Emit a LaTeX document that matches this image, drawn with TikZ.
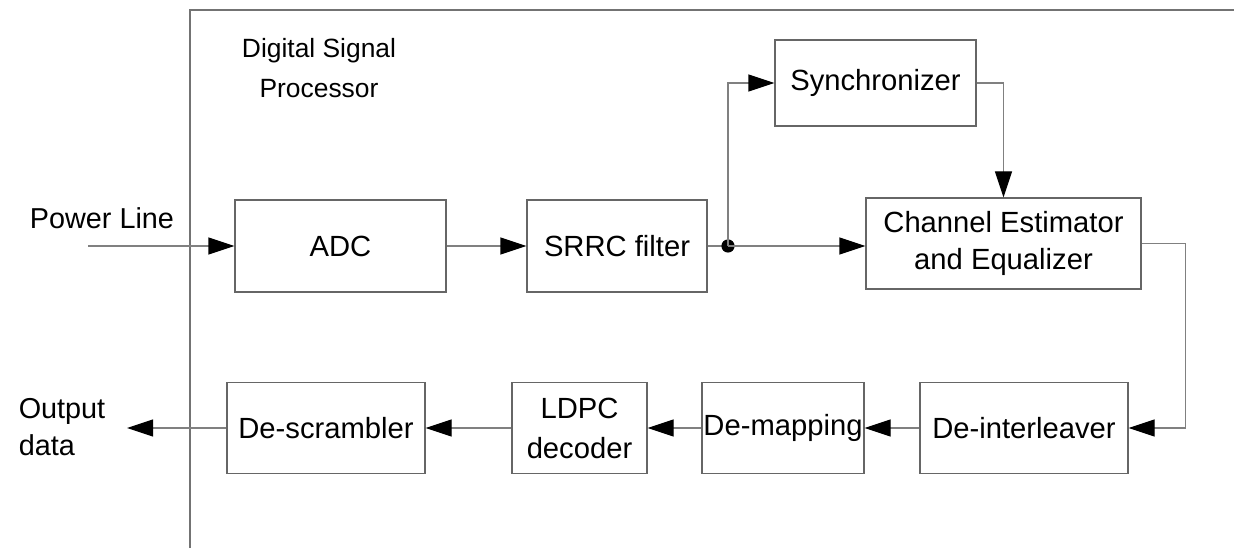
\documentclass[tikz,border=0pt]{standalone}
\usepackage{fontspec}
\setmainfont{Liberation Sans}
\usepackage{tikz}
\usetikzlibrary{arrows.meta, positioning, calc}

\begin{document}
\begin{tikzpicture}[
  x=0.5pt, y=-0.5pt,
  block/.style={draw=black!60, line width=0.6pt, inner sep=0pt, minimum height=45.5pt,
    align=center, font=\fontsize{14.6}{18.5}\selectfont},
  txt/.style={inner sep=0pt, font=\fontsize{14.4}{18.5}\selectfont},
  wire/.style={draw=black!50, line width=0.6pt},
  flow/.style={wire, -{Triangle[length=13pt,width=8.5pt,black]}},
]
\useasboundingbox (0,0) rectangle (1234,549);

% DSP frame
\draw[black!55, line width=0.6pt] (190,548) -- (190,10) -- (1234,10);
\node[txt, align=center, font=\fontsize{13.2}{20}\selectfont] (dsp) at (319,68) {Digital Signal\\Processor};

% Upper chain
\node[block, minimum width=105.5pt, minimum height=46pt] (adc) at (340.5,246) {ADC};
\node[block, minimum width=90pt, minimum height=46pt] (srrc) at (617,246) {SRRC filter};
\node[block, minimum width=100.5pt, minimum height=43pt] (sync) at (875.5,83) {Synchronizer};
\node[block, minimum width=137.5pt] (chan) at (1003.5,243.5) {Channel Estimator\\and Equalizer};

% Lower chain
\node[block, minimum width=104pt] (deint) at (1024,428) {De-interleaver};
\node[block, minimum width=81pt] (demap) at (783,428) {De-mapping};
\node[block, minimum width=67.5pt, font=\fontsize{14.6}{20}\selectfont] (ldpc) at (579.5,428) {LDPC\\decoder};
\node[block, minimum width=99pt] (descr) at (326,428) {De-scrambler};

% Outside the DSP
\node[txt] (pwr) at (102,218) {Power Line};
\node[txt, align=left] (out) at (62,427) {Output\\data};
\coordinate (pin) at (88,246);
\coordinate (pout) at (127,428);
\coordinate (split) at (728,246);

% Connections
\draw[flow] (pin) -- (adc);
\draw[flow] (adc) -- (srrc);
\draw[wire] (srrc) -- (split);
\fill (split) circle (3.3pt);
\draw[flow] (split) |- (sync);
\draw[flow] (split) -- (split -| chan.west);
\draw[flow] (sync) -| (chan);
\draw[flow] (chan.east) -- ++(44,0) |- (deint);
\draw[flow] (deint) -- (demap);
\draw[flow] (demap) -- (ldpc);
\draw[flow] (ldpc) -- (descr);
\draw[flow] (descr) -- (pout);
\end{tikzpicture}
\end{document}
